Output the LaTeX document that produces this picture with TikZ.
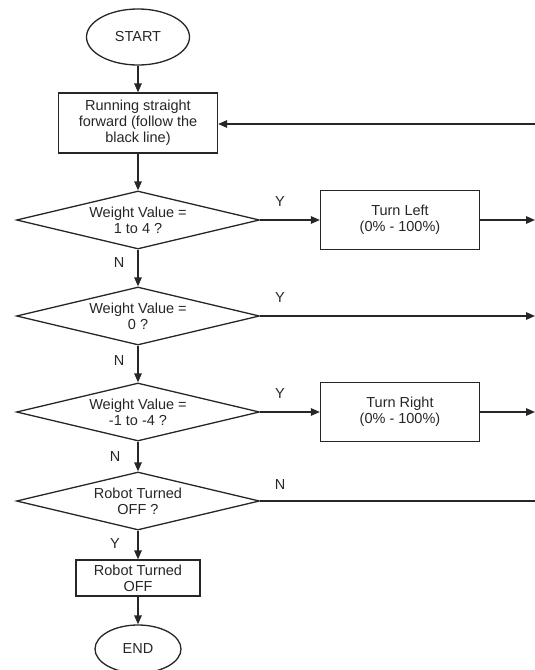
\documentclass[tikz,border=0pt]{standalone}
\usepackage{fontspec}
\setmainfont{Liberation Sans}
\usetikzlibrary{shapes.geometric,arrows.meta}
\begin{document}
\begin{tikzpicture}[x=1pt,y=-1pt,
  every node/.style={font=\fontsize{14.5}{16}\selectfont, text=black!85},
  line/.style={line width=1.3pt, draw=black!85},
  arr/.style={line, -{Triangle[length=9pt,width=7.5pt]}},
  term/.style={ellipse, draw=black!85, line width=1.3pt, inner sep=0pt},
  proc/.style={rectangle, draw=black!85, line width=1.3pt, align=center, inner sep=0pt},
  dec/.style={diamond, draw=black!85, line width=1.3pt, align=center, inner sep=0pt,
    shape aspect=4.2, minimum width=243pt, minimum height=58pt},
  lab/.style={inner sep=0pt}
]
\useasboundingbox (0,0) rectangle (535,670);
\node[term, minimum width=103pt, minimum height=56pt] (start) at (138,37) {START};
\node[proc, minimum width=159pt, minimum height=60pt] (run) at (138,123) {Running straight\\forward (follow the\\black line)};
\node[dec] (d1) at (138,220) {Weight Value =\\1 to 4 ?};
\node[proc, minimum width=159pt, minimum height=59pt] (left) at (400,220) {Turn Left\\(0\% - 100\%)};
\node[dec] (d2) at (138,316) {Weight Value =\\0 ?};
\node[dec] (d3) at (138,412) {Weight Value =\\-1 to -4 ?};
\node[proc, minimum width=159pt, minimum height=59pt] (right) at (400,412) {Turn Right\\(0\% - 100\%)};
\node[dec] (d4) at (138,501) {Robot Turned\\OFF ?};
\node[proc, minimum width=124pt, minimum height=36pt] (off) at (138,578) {Robot Turned\\OFF};
\node[term, minimum width=86pt, minimum height=48pt] (end) at (138,649) {END};

\coordinate (r0) at (535,124);
\coordinate (r1) at (535,220);
\coordinate (r2) at (535,316);
\coordinate (r3) at (535,412);
\coordinate (r4) at (535,501);

\draw[arr] (start) -- (run);
\draw[arr] (run) -- (d1);
\draw[arr] (r0) -- (run.east |- r0);
\draw[arr] (d1.east) -- (left.west);
\draw[arr] (left.east) -- (r1);
\draw[arr] (d1) -- (d2);
\draw[arr] (d2.east) -- (r2);
\draw[arr] (d2) -- (d3);
\draw[arr] (d3.east) -- (right.west);
\draw[arr] (right.east) -- (r3);
\draw[arr] (d3) -- (d4);
\draw[line] (d4.east) -- (r4);
\draw[arr] (d4) -- (off);
\draw[arr] (off) -- (end);

\node[lab] (y1) at (280,202) {Y};
\node[lab] (n1) at (119,263) {N};
\node[lab] (y2) at (280,298) {Y};
\node[lab] (n2) at (119,361) {N};
\node[lab] (y3) at (280,394) {Y};
\node[lab] (n3) at (115,457) {N};
\node[lab] (n4) at (280,485) {N};
\node[lab] (y4) at (115,544) {Y};
\end{tikzpicture}
\end{document}
